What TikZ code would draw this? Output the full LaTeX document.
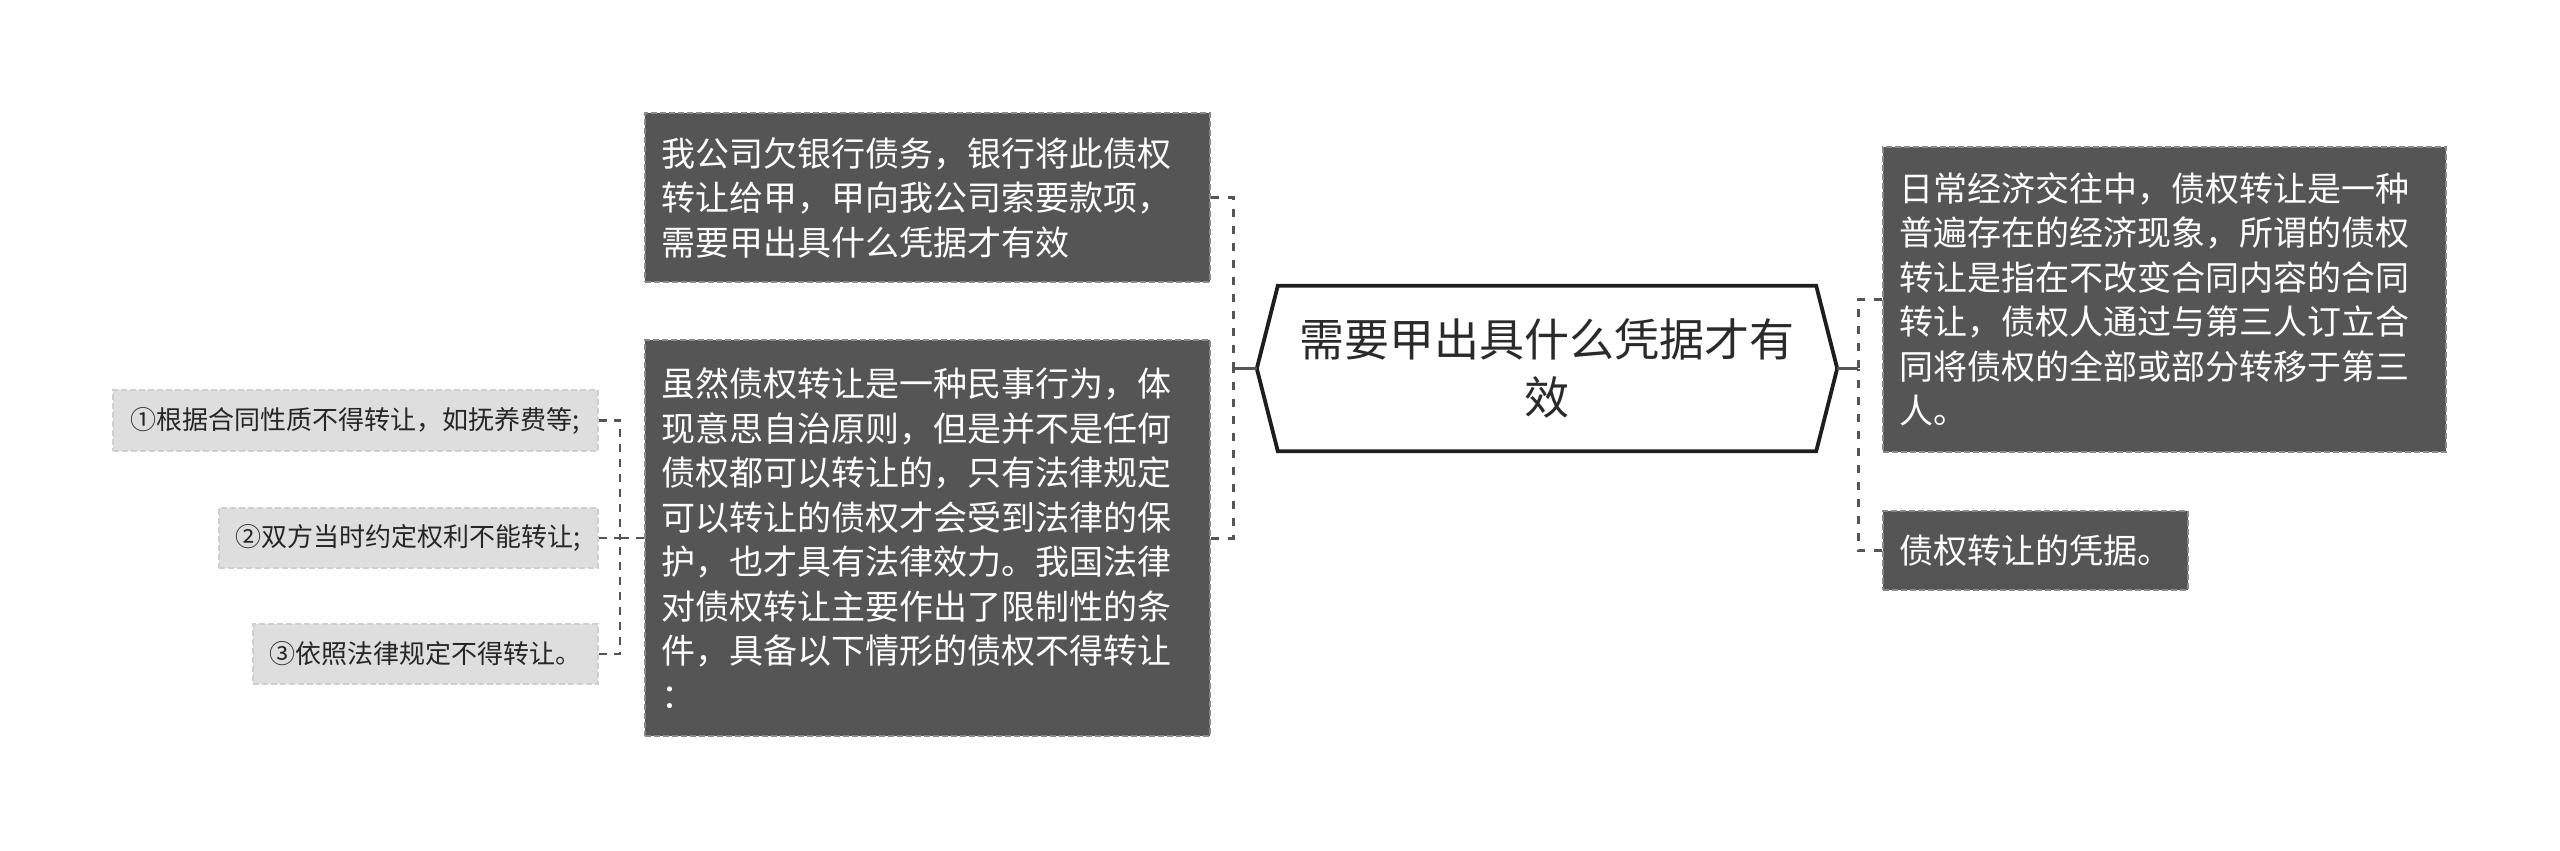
\documentclass[tikz,border=0pt]{standalone}
\usepackage{fontspec}
\setmainfont{Noto Sans CJK SC}
\usetikzlibrary{calc}
\definecolor{darkfill}{HTML}{555555}
\definecolor{darkborder}{HTML}{8A8A8A}
\definecolor{lightfill}{HTML}{DEDEDE}
\definecolor{lightborder}{HTML}{CFCFCF}
\definecolor{linkcol}{HTML}{555555}
\definecolor{centerborder}{HTML}{1E1E1E}
\definecolor{centertextcol}{HTML}{2A2A2A}
\begin{document}
\begin{tikzpicture}[x=1pt,y=-1pt,
  darkbox/.style={draw=darkborder, fill=darkfill, line width=1.8pt, dash pattern=on 6pt off 3pt,
    text=white, align=left, inner xsep=16pt, inner ysep=0pt,
    font=\fontsize{34pt}{44.5pt}\selectfont},
  lightbox/.style={draw=lightborder, fill=lightfill, line width=1.8pt, dash pattern=on 6pt off 3pt,
    text=black!85, align=center, inner sep=0pt,
    font=\fontsize{26pt}{32pt}\selectfont},
  centernode/.style={align=center, inner sep=0pt, text=centertextcol,
    font=\fontsize{45pt}{58pt}\selectfont, minimum width=538pt, minimum height=165pt},
  dashlink/.style={draw=linkcol, line width=3pt, dash pattern=on 8pt off 9pt},
  solidlink/.style={draw=linkcol, line width=3pt}
]
\useasboundingbox (0,0) rectangle (2560,851);

% center
\node[centernode] (c) at (1547,368.5) {需要甲出具什么凭据才有\\效};
\coordinate (cl) at ($(c.west)+(-21,0)$);
\coordinate (cr) at ($(c.east)+(21,0)$);
\draw[draw=centerborder, line width=3.8pt, line join=miter, fill=white]
  (c.north west) -- (c.north east) -- (cr) -- (c.south east) -- (c.south west) -- (cl) -- cycle;
\node[centernode] at (c.center) {需要甲出具什么凭据才有\\效};

% left boxes
\node[darkbox, minimum width=565pt, minimum height=169pt, text width=533pt] (q) at (927.5,197.5)
  {我公司欠银行债务，银行将此债权\\转让给甲，甲向我公司索要款项，\\需要甲出具什么凭据才有效};
\node[darkbox, minimum width=565pt, minimum height=396pt, text width=533pt] (b) at (927.5,538)
  {虽然债权转让是一种民事行为，体\\现意思自治原则，但是并不是任何\\债权都可以转让的，只有法律规定\\可以转让的债权才会受到法律的保\\护，也才具有法律效力。我国法律\\对债权转让主要作出了限制性的条\\件，具备以下情形的债权不得转让\\：};

% right boxes
\node[darkbox, minimum width=563pt, minimum height=305pt, text width=531pt] (r1) at (2164.5,299.5)
  {日常经济交往中，债权转让是一种\\普遍存在的经济现象，所谓的债权\\转让是指在不改变合同内容的合同\\转让，债权人通过与第三人订立合\\同将债权的全部或部分转移于第三\\人。};
\node[darkbox, minimum width=305pt, minimum height=79pt, text width=273pt] (r2) at (2035.5,550.5)
  {债权转让的凭据。};

% small boxes
\node[lightbox, minimum width=485pt, minimum height=61pt] (s1) at (355.5,420.5) {①根据合同性质不得转让，如抚养费等;};
\node[lightbox, minimum width=379pt, minimum height=60pt] (s2) at (408.5,538) {②双方当时约定权利不能转让;};
\node[lightbox, minimum width=345pt, minimum height=60pt] (s3) at (425.5,654) {③依照法律规定不得转让。};

% connectors
\coordinate (jl) at (1233,368.5);
\coordinate (jr) at (1858,368.5);
\coordinate (jb) at (620,538);
\draw[solidlink] (cl) -- (jl);
\draw[dashlink] (q.east) -| (jl);
\draw[dashlink] (b.east) -| (jl);
\draw[solidlink] (cr) -- (jr);
\draw[dashlink] (r1.west) -| (jr);
\draw[dashlink] (r2.west) -| (jr);
\draw[dashlink, line width=2.5pt, dash pattern=on 8pt off 7pt] (b.west) -- (jb);
\draw[dashlink, line width=2.5pt, dash pattern=on 8pt off 7pt] (s1.east) -| (jb);
\draw[dashlink, line width=2.5pt, dash pattern=on 8pt off 7pt] (s2.east) -- (jb);
\draw[dashlink, line width=2.5pt, dash pattern=on 8pt off 7pt] (s3.east) -| (jb);
\end{tikzpicture}
\end{document}
